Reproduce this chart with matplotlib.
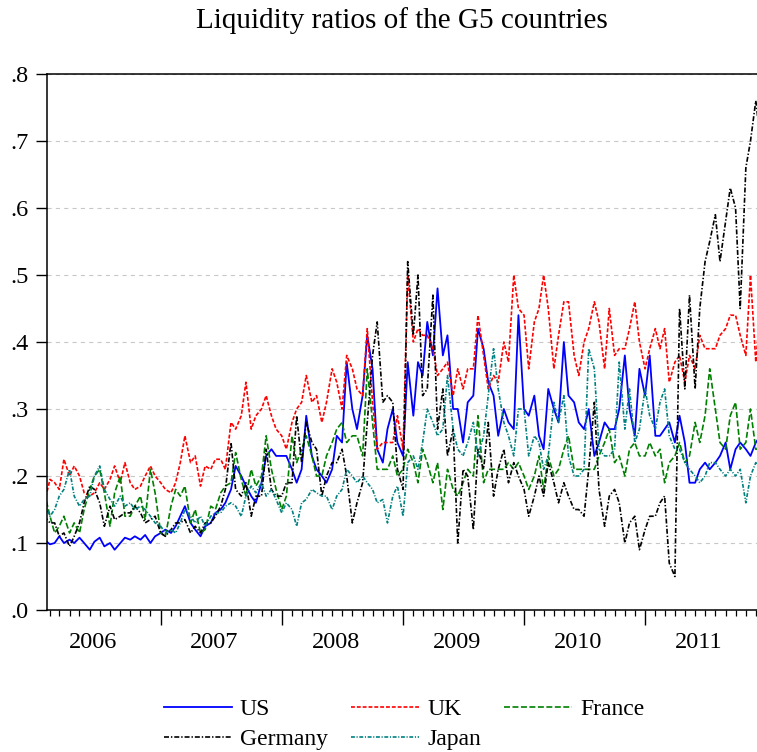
import numpy as np
import pandas as pd
import matplotlib
matplotlib.use('Agg')
import matplotlib.pyplot as plt
import matplotlib.dates as mdates
from matplotlib.ticker import FuncFormatter

plt.rcParams['font.family'] = ['Liberation Serif', 'DejaVu Serif']
plt.rcParams['lines.scale_dashes'] = False

# semi-monthly observations, Jan 2006 - Dec 2011
dates = pd.date_range('2006-01-15', '2011-12-15', freq='SMS')

us = [0.105, 0.098, 0.10, 0.11, 0.10, 0.105, 0.10, 0.108, 0.10, 0.09, 0.102, 0.108, 0.095, 0.10, 0.09, 0.10, 0.108, 0.105, 0.11, 0.105, 0.112, 0.10, 0.11,
      0.115, 0.12, 0.115, 0.125, 0.14, 0.155, 0.13, 0.12, 0.11, 0.125, 0.13, 0.145, 0.15, 0.16, 0.18, 0.215, 0.20, 0.185, 0.17, 0.16, 0.19, 0.23, 0.24, 0.23,
      0.23, 0.23, 0.21, 0.19, 0.21, 0.29, 0.23, 0.21, 0.20, 0.19, 0.21, 0.26, 0.25, 0.37, 0.30, 0.27, 0.32, 0.41, 0.36, 0.24, 0.22, 0.27, 0.30, 0.25,
      0.23, 0.37, 0.29, 0.37, 0.35, 0.43, 0.38, 0.48, 0.38, 0.41, 0.30, 0.30, 0.25, 0.31, 0.32, 0.42, 0.39, 0.34, 0.32, 0.26, 0.30, 0.28, 0.27, 0.44,
      0.30, 0.29, 0.32, 0.26, 0.24, 0.33, 0.30, 0.28, 0.40, 0.32, 0.31, 0.28, 0.27, 0.30, 0.23, 0.25, 0.28, 0.27, 0.27, 0.30, 0.38, 0.30, 0.26, 0.36,
      0.32, 0.38, 0.26, 0.26, 0.27, 0.28, 0.25, 0.29, 0.25, 0.19, 0.19, 0.21, 0.22, 0.21, 0.22, 0.23, 0.25, 0.21, 0.24, 0.25, 0.24, 0.23, 0.25, 0.26]

uk = [0.16, 0.195, 0.19, 0.18, 0.225, 0.20, 0.215, 0.20, 0.175, 0.17, 0.175, 0.19, 0.18, 0.195, 0.215, 0.19, 0.22, 0.19, 0.18, 0.185, 0.20, 0.215, 0.20,
      0.19, 0.18, 0.175, 0.19, 0.22, 0.26, 0.22, 0.23, 0.185, 0.215, 0.21, 0.225, 0.225, 0.21, 0.28, 0.27, 0.29, 0.34, 0.27, 0.29, 0.30, 0.32, 0.29, 0.27,
      0.26, 0.24, 0.28, 0.30, 0.31, 0.35, 0.31, 0.32, 0.28, 0.31, 0.36, 0.34, 0.30, 0.38, 0.36, 0.33, 0.32, 0.42, 0.31, 0.24, 0.25, 0.25, 0.25, 0.29,
      0.24, 0.50, 0.40, 0.42, 0.41, 0.41, 0.39, 0.35, 0.36, 0.37, 0.32, 0.36, 0.33, 0.36, 0.36, 0.44, 0.38, 0.33, 0.35, 0.34, 0.40, 0.37, 0.50, 0.45,
      0.44, 0.36, 0.43, 0.45, 0.50, 0.45, 0.36, 0.41, 0.46, 0.46, 0.38, 0.35, 0.40, 0.42, 0.46, 0.43, 0.36, 0.45, 0.38, 0.39, 0.39, 0.42, 0.46, 0.40,
      0.36, 0.39, 0.42, 0.39, 0.42, 0.34, 0.37, 0.38, 0.34, 0.38, 0.36, 0.41, 0.39, 0.39, 0.39, 0.41, 0.42, 0.44, 0.44, 0.41, 0.38, 0.50, 0.37, 0.45]

france = [0.175, 0.14, 0.115, 0.125, 0.14, 0.115, 0.13, 0.115, 0.15, 0.18, 0.20, 0.21, 0.175, 0.125, 0.175, 0.20, 0.14, 0.14, 0.155, 0.17, 0.135, 0.21, 0.175,
          0.115, 0.11, 0.155, 0.18, 0.17, 0.185, 0.13, 0.15, 0.115, 0.12, 0.155, 0.15, 0.175, 0.185, 0.19, 0.235, 0.195, 0.17, 0.21, 0.185, 0.20, 0.26, 0.21, 0.18,
          0.15, 0.17, 0.26, 0.22, 0.24, 0.26, 0.23, 0.20, 0.20, 0.23, 0.25, 0.27, 0.28, 0.25, 0.26, 0.26, 0.23, 0.36, 0.28, 0.21, 0.21, 0.21, 0.23, 0.20,
          0.21, 0.24, 0.22, 0.19, 0.24, 0.22, 0.19, 0.22, 0.15, 0.21, 0.18, 0.17, 0.19, 0.21, 0.20, 0.29, 0.19, 0.21, 0.21, 0.21, 0.21, 0.22, 0.21, 0.22,
          0.20, 0.18, 0.20, 0.23, 0.18, 0.23, 0.20, 0.21, 0.24, 0.26, 0.21, 0.21, 0.21, 0.21, 0.21, 0.23, 0.25, 0.27, 0.22, 0.23, 0.20, 0.24, 0.25, 0.23,
          0.23, 0.25, 0.23, 0.24, 0.19, 0.22, 0.23, 0.25, 0.22, 0.23, 0.28, 0.25, 0.29, 0.36, 0.30, 0.25, 0.24, 0.29, 0.31, 0.24, 0.25, 0.30, 0.24, 0.24]

germany = [0.14, 0.13, 0.13, 0.11, 0.115, 0.095, 0.11, 0.13, 0.16, 0.185, 0.18, 0.16, 0.125, 0.155, 0.135, 0.14, 0.145, 0.145, 0.155, 0.145, 0.13, 0.135, 0.14,
           0.115, 0.11, 0.12, 0.13, 0.13, 0.135, 0.115, 0.125, 0.115, 0.13, 0.13, 0.14, 0.155, 0.18, 0.25, 0.18, 0.17, 0.19, 0.14, 0.17, 0.17, 0.24, 0.18, 0.17,
           0.17, 0.19, 0.19, 0.29, 0.22, 0.28, 0.25, 0.24, 0.17, 0.20, 0.22, 0.22, 0.24, 0.20, 0.13, 0.16, 0.19, 0.28, 0.38, 0.43, 0.31, 0.32, 0.31, 0.21,
           0.18, 0.52, 0.41, 0.50, 0.32, 0.33, 0.47, 0.27, 0.33, 0.23, 0.27, 0.10, 0.21, 0.20, 0.12, 0.24, 0.21, 0.28, 0.17, 0.21, 0.24, 0.19, 0.22, 0.20,
           0.18, 0.14, 0.17, 0.20, 0.17, 0.22, 0.19, 0.16, 0.19, 0.17, 0.15, 0.15, 0.14, 0.21, 0.31, 0.18, 0.125, 0.17, 0.18, 0.16, 0.10, 0.13, 0.14, 0.09,
           0.12, 0.14, 0.14, 0.16, 0.17, 0.07, 0.05, 0.45, 0.33, 0.47, 0.33, 0.45, 0.52, 0.55, 0.59, 0.52, 0.58, 0.63, 0.60, 0.45, 0.66, 0.70, 0.76, 0.70]

japan = [0.16, 0.14, 0.15, 0.17, 0.18, 0.21, 0.17, 0.155, 0.165, 0.17, 0.20, 0.215, 0.18, 0.165, 0.155, 0.17, 0.155, 0.16, 0.15, 0.155, 0.15, 0.14, 0.13,
         0.125, 0.115, 0.12, 0.115, 0.13, 0.15, 0.14, 0.13, 0.14, 0.125, 0.14, 0.145, 0.145, 0.155, 0.16, 0.155, 0.14, 0.17, 0.185, 0.175, 0.19, 0.17, 0.18, 0.165,
         0.145, 0.16, 0.15, 0.125, 0.16, 0.165, 0.18, 0.175, 0.17, 0.17, 0.15, 0.17, 0.18, 0.21, 0.20, 0.19, 0.20, 0.19, 0.18, 0.16, 0.165, 0.13, 0.17, 0.185,
         0.14, 0.22, 0.23, 0.21, 0.25, 0.30, 0.28, 0.26, 0.27, 0.35, 0.27, 0.24, 0.23, 0.25, 0.28, 0.23, 0.26, 0.32, 0.39, 0.33, 0.28, 0.26, 0.23, 0.30,
         0.30, 0.23, 0.26, 0.25, 0.21, 0.23, 0.31, 0.28, 0.32, 0.23, 0.20, 0.20, 0.21, 0.39, 0.36, 0.24, 0.23, 0.23, 0.24, 0.37, 0.27, 0.33, 0.25, 0.27,
         0.33, 0.29, 0.27, 0.31, 0.33, 0.26, 0.24, 0.24, 0.22, 0.21, 0.20, 0.19, 0.20, 0.22, 0.22, 0.21, 0.20, 0.21, 0.20, 0.21, 0.16, 0.20, 0.22, 0.21]

years = [2006, 2007, 2008, 2009, 2010, 2011]

fig = plt.figure(figsize=(7.57, 7.52), dpi=100)
ax = fig.add_axes([0.0621, 0.1888, 0.9420, 0.7128])

ax.plot(dates, us, color='#0000ff', lw=1.3, ls='-', label='US')
ax.plot(dates, uk, color='#ff0000', lw=1.2, ls=(0, (2.8, 1.4)), label='UK')
ax.plot(dates, france, color='#008000', lw=1.2, ls=(0, (4.3, 1.8)), label='France')
ax.plot(dates, germany, color='black', lw=1.2, ls=(0, (3.6, 1.4, 1.0, 1.4)), label='Germany')
ax.plot(dates, japan, color='#008080', lw=1.2, ls=(0, (2.8, 1.2, 0.8, 1.2)), label='Japan')

ax.set_xlim(pd.Timestamp('2006-01-23'), pd.Timestamp('2011-12-14'))
ax.set_ylim(0, 0.8)
ax.set_yticks(np.arange(0, 0.81, 0.1))
ax.yaxis.set_major_formatter(FuncFormatter(lambda v, p: f'{v:.1f}'.lstrip('0')))
ax.yaxis.grid(True, color='#c8c8c8', linestyle=(0, (3, 3)), lw=0.8)
ax.set_axisbelow(True)

ax.xaxis.set_major_locator(mdates.YearLocator())
ax.xaxis.set_minor_locator(mdates.MonthLocator())
ax.tick_params(axis='x', which='major', length=11, width=1, labelbottom=False)
ax.tick_params(axis='x', which='minor', length=4.5, width=0.9)
ax.tick_params(axis='y', length=8, width=1, pad=5, labelsize=17.5)

for s in ['left', 'top', 'bottom']:
    ax.spines[s].set_linewidth(1.1)
ax.spines['right'].set_visible(False)

# year labels sit mid-year, without ticks
sec = ax.secondary_xaxis('bottom')
sec.set_xticks([pd.Timestamp(f'{y}-06-12') for y in years])
sec.set_xticklabels([str(y) for y in years])
sec.tick_params(length=0, pad=16, labelsize=17.5)
sec.spines['bottom'].set_visible(False)

fig.text(0.531, 0.973, 'Liquidity ratios of the G5 countries', ha='center', va='center', fontsize=21)

h, l = ax.get_legend_handles_labels()
order = [0, 3, 1, 4, 2]
fig.legend([h[i] for i in order], [l[i] for i in order], loc='center', bbox_to_anchor=(0.534, 0.037),
           ncol=3, frameon=False, fontsize=17, handlelength=2.85, handletextpad=0.35,
           columnspacing=1.0, labelspacing=0.35, borderpad=0)

fig.savefig('out.png', dpi=100)
